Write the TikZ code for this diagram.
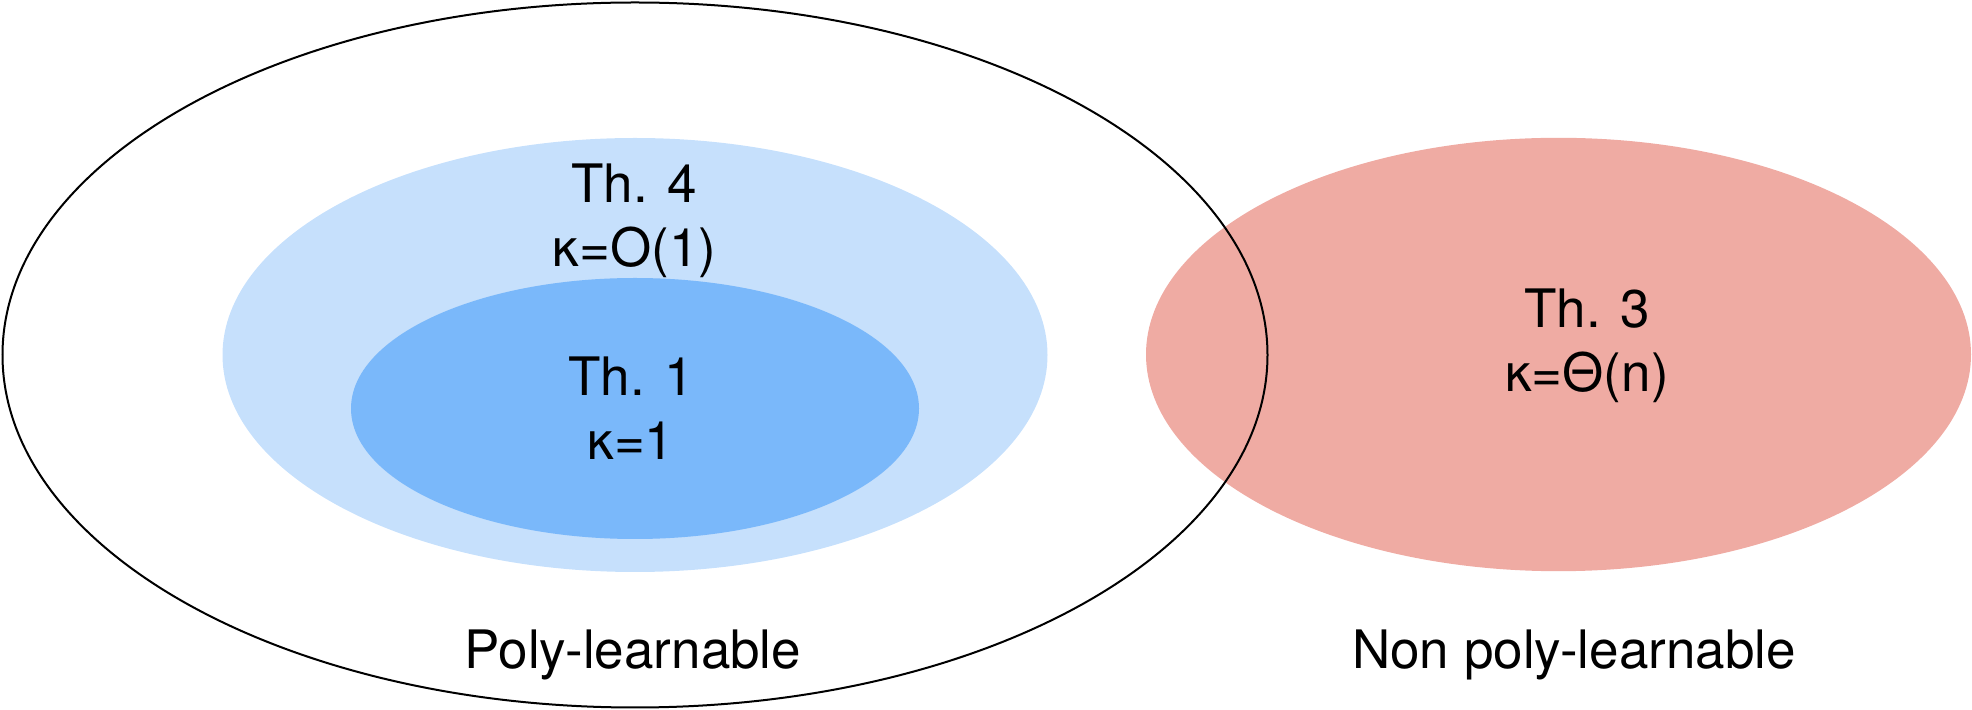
\documentclass[tikz,border=0pt]{standalone}
\usepackage{fontspec}
\setmainfont{TeX Gyre Heros}
\definecolor{lightblue}{HTML}{C6E0FC}
\definecolor{midblue}{HTML}{7AB8FA}
\definecolor{salmon}{HTML}{EFABA3}
\begin{document}
\begin{tikzpicture}[x=0.5pt,y=-0.5pt,
  lbl/.style={anchor=base,inner sep=0pt,font=\fontsize{26.5pt}{31.8pt}\selectfont}]
\useasboundingbox (0,0) rectangle (1972,710);
\fill[lightblue] (635,355) ellipse [x radius=412.5, y radius=217];
\fill[midblue] (635,408.5) ellipse [x radius=284, y radius=130.5];
\fill[salmon] (1558.5,354.5) ellipse [x radius=412.5, y radius=216.7];
\draw[black, line width=1pt] (635,355) ellipse [x radius=632.5, y radius=352.5];
\node[lbl] (th4) at (634,203) {Th. 4};
\node[lbl] (k4) at (634.5,267) {κ=O(1)};
\node[lbl] (th1) at (631,396) {Th. 1};
\node[lbl] (k1) at (631,460) {κ=1};
\node[lbl] (th3) at (1587,328) {Th. 3};
\node[lbl] (k3) at (1587,392) {κ=Θ(n)};
\node[lbl] (poly) at (633,669) {Poly-learnable};
\node[lbl] (nonpoly) at (1574,669) {Non poly-learnable};
\end{tikzpicture}
\end{document}
